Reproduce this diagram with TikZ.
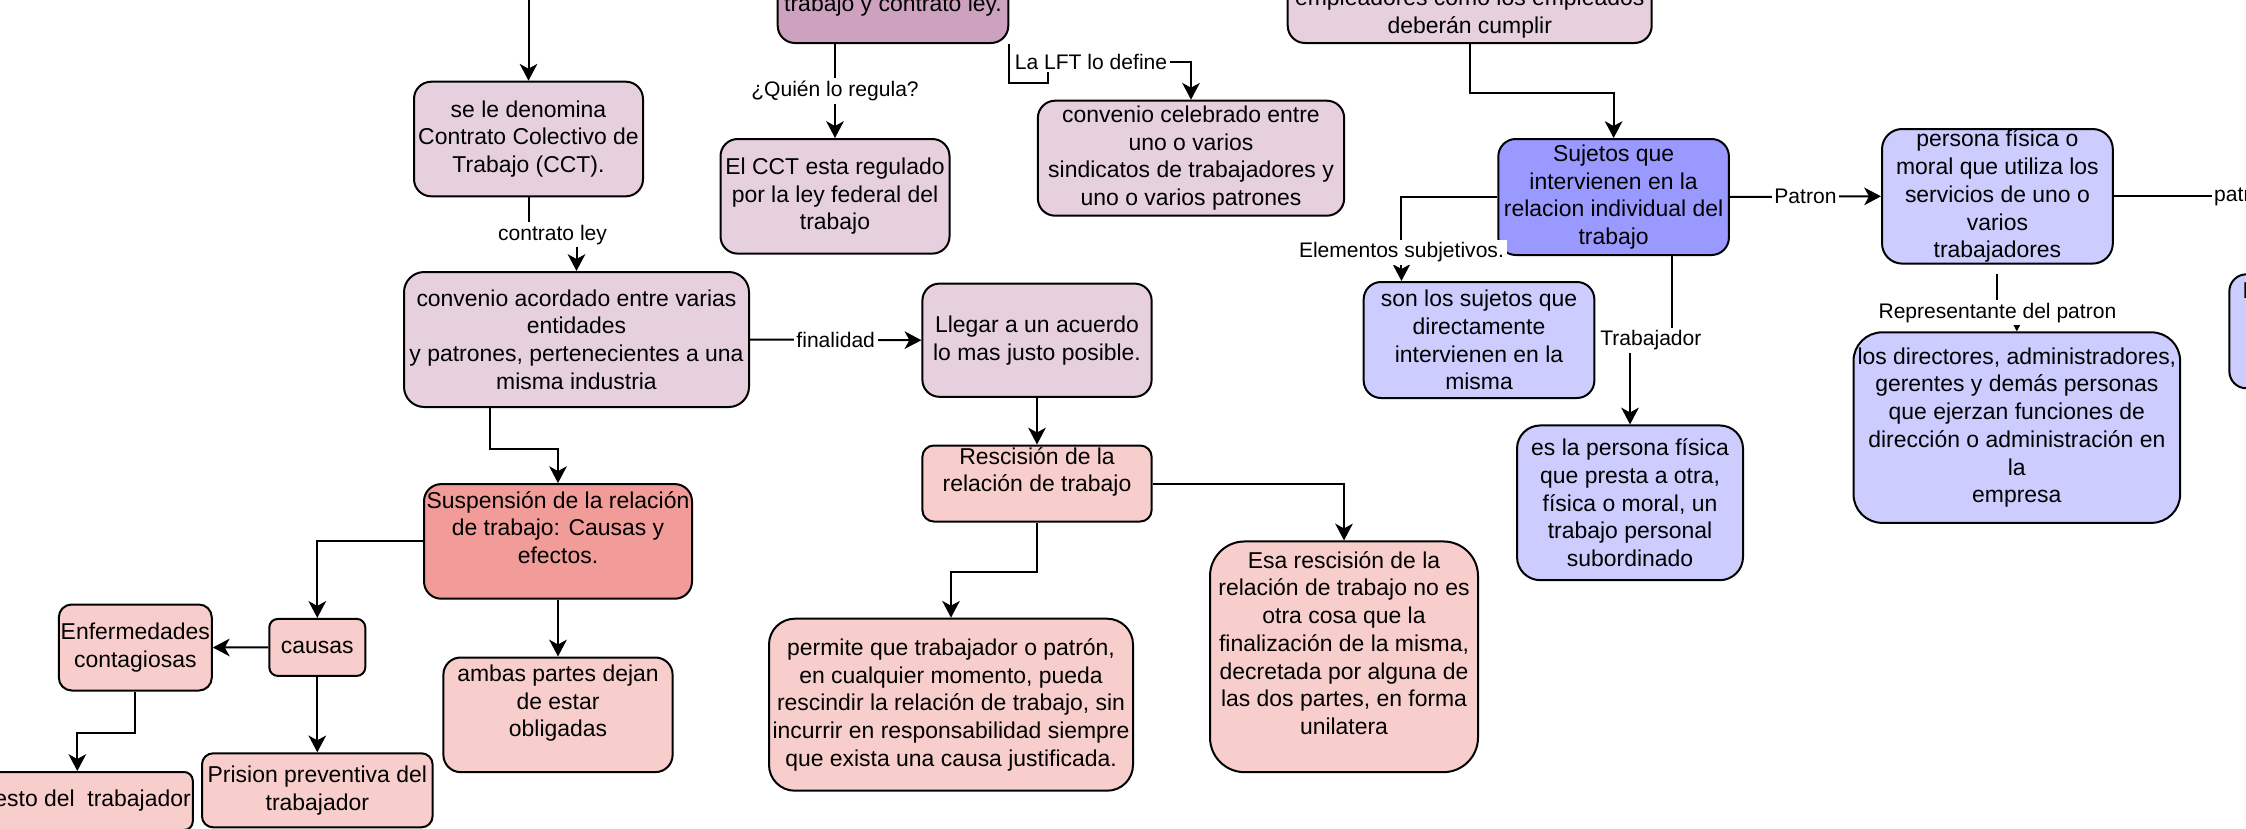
\documentclass[tikz,border=0pt]{standalone}
\usepackage{fontspec}
\setmainfont{Liberation Sans}
\usetikzlibrary{arrows.meta,calc}

\definecolor{mauve}{HTML}{E6D0DE}
\definecolor{mauvedark}{HTML}{CDA2BE}
\definecolor{rose}{HTML}{F8CECC}
\definecolor{rosedark}{HTML}{F19C99}
\definecolor{lilac}{HTML}{CCCCFF}
\definecolor{lilacdark}{HTML}{9999FF}

\newcommand{\boxfont}{\fontsize{8.6pt}{10.4pt}\selectfont}
\newcommand{\lblfont}{\fontsize{7.9pt}{9.5pt}\selectfont}

\tikzset{
  box/.style={draw, line width=0.75pt, align=center, font=\boxfont, inner xsep=0.5pt, inner ysep=0pt},
  sz/.style 2 args={minimum width=#1*0.375pt, minimum height=#2*0.375pt, rounded corners={0.15*min(#1,#2)*0.375pt}},
  lbl/.style={fill=white, font=\lblfont, inner sep=1pt},
  arr/.style={line width=0.75pt, -{Stealth[length=6.3pt,width=6.6pt,inset=1.8pt]}},
  link/.style={line width=0.75pt}
}

\begin{document}
\begin{tikzpicture}[x=0.375pt,y=-0.375pt]
  \useasboundingbox (0,0) rectangle (2246,828);
  \fill[white] (0,0) rectangle (2246,828);
  \clip (0,0) rectangle (2246,828);

  % top row
  \node[box, fill=mauvedark, sz={230.6}{115}] (law) at (893,-14.5) {};
  \node[font=\boxfont] (lawtxt) at (893,6) {trabajo y contrato ley.};
  \node[box, fill=mauve, sz={364}{115}] (duty) at (1469.7,-14.5) {};
  \node[font=\boxfont, align=center] (dutytxt) at (1469.7,13.5) {empleadores como los empleados\\deberán cumplir};
  \coordinate (topin) at (528.5,-20);

  % contrato colectivo
  \node[box, fill=mauve, sz={229}{114.6}] (deno) at (528.5,139) {se le denomina\\Contrato Colectivo de\\Trabajo (CCT).};
  \node[box, fill=mauve, sz={229}{114.6}] (regul) at (835,196.3) {El CCT esta regulado\\por la ley federal del\\trabajo};
  \node[box, fill=mauve, sz={306.3}{115}] (celeb) at (1191,158.2) {convenio celebrado entre\\uno o varios\\sindicatos de trabajadores y\\uno o varios patrones};
  \node[box, fill=mauve, sz={345}{135}] (acord) at (576.5,339.5) {convenio acordado entre varias\\entidades\\y patrones, pertenecientes a una\\misma industria};
  \node[box, fill=mauve, sz={229.2}{113.2}] (acuerdo) at (1037,340.2) {Llegar a un acuerdo\\lo mas justo posible.};

  % rescision
  \node[box, fill=rose, sz={229.2}{76}] (resc) at (1037,483.5) {Rescisión de la\\relación de trabajo\\\mbox{}};
  \node[box, fill=rose, sz={364}{172}] (permite) at (951,704.7) {permite que trabajador o patrón,\\en cualquier momento, pueda\\rescindir la relación de trabajo, sin\\incurrir en responsabilidad siempre\\que exista una causa justificada.};
  \node[box, fill=rose, sz={268}{230.7}] (esa) at (1344,656.8) {Esa rescisión de la\\relación de trabajo no es\\otra cosa que la\\finalización de la misma,\\decretada por alguna de\\las dos partes, en forma\\unilatera\\\mbox{}};

  % suspension
  \node[box, fill=rosedark, sz={268}{114.6}] (susp) at (558,541.4) {Suspensión de la relación\\de trabajo: Causas y\\efectos.\\\mbox{}};
  \node[box, fill=rose, sz={229.2}{114.6}] (ambas) at (558,714.8) {ambas partes dejan\\de estar\\obligadas\\\mbox{}};
  \node[box, fill=rose, sz={96}{57}] (causas) at (317.3,647.4) {causas};
  \node[box, fill=rose, sz={153}{86}] (enferm) at (135.3,647.5) {Enfermedades\\contagiosas};
  \node[box, fill=rose, sz={230.6}{74}] (prision) at (317.3,790.3) {Prision preventiva del\\trabajador};
  \node[box, fill=rose, sz={231}{58}] (arresto) at (77.3,801) {Arresto del\ \ trabajador};

  % sujetos
  \node[box, fill=lilacdark, sz={230.6}{116}] (sujetos) at (1613.6,197) {Sujetos que\\intervienen en la\\relacion individual del\\trabajo};
  \node[box, fill=lilac, sz={230.7}{116}] (directo) at (1479,340) {son los sujetos que\\directamente\\intervienen en la\\misma};
  \node[box, fill=lilac, sz={226}{154.7}] (trabaj) at (1630,502.8) {es la persona física\\que presta a otra,\\física o moral, un\\trabajo personal\\subordinado};
  \node[box, fill=lilac, sz={230.8}{134.6}] (patron) at (1997.4,196.3) {persona física o\\moral que utiliza los\\servicios de uno o\\varios\\trabajadores};
  \node[box, fill=lilac, sz={326.6}{190.5}] (repres) at (2016.8,427.6) {los directores, administradores,\\gerentes y demás personas\\que ejerzan funciones de\\dirección o administración en\\la\\empresa};
  \node[box, fill=lilac, sz={230}{114}, anchor=north west] (otro) at (2228.3,273.3) {};
  \node[font=\boxfont, anchor=west, inner sep=0pt] (otrotxt) at (2242,291) {L};
  \coordinate (offright) at (2300,196.3);
  \coordinate (lftbend) at (1191,62);

  % connectors
  \draw[arr] (topin) -- (deno.north);
  \draw[arr] (deno.south) -- ++(0,37.5) -| (acord.north) node[lbl, pos=0.25] {contrato ley};
  \draw[arr] (regul.north |- law.south) -- (regul.north) node[lbl, midway] {¿Quién lo regula?};
  \draw[arr] (law.south east) -- ++(0,38.7) -- ++(39,0) |- (lftbend) -- (celeb.north);
  \node[lbl] (lftlbl) at (1091,62) {La LFT lo define};
  \draw[arr] (acord.east) -- (acuerdo.west) node[lbl, midway] {finalidad};
  \draw[arr] (acuerdo.south) -- (resc.north);
  \draw[arr] (resc.south) -- ++(0,49) -| (permite.north);
  \draw[arr] (resc.east) -| (esa.north);
  \draw[arr] ($(acord.south west)!.25!(acord.south east)$) -- ++(0,41) -| (susp.north);
  \draw[arr] (susp.south) -- (ambas.north);
  \draw[arr] (susp.west) -| (causas.north);
  \draw[arr] (causas.west) -- (enferm.east);
  \draw[arr] (causas.south) -- (prision.north);
  \draw[arr] (enferm.south) -- ++(0,41.5) -| (arresto.north);
  \draw[arr] (duty.south) -- ++(0,48.5) -| (sujetos.north);
  \draw[arr] (sujetos.west) -| ($(directo.north west)!.1667!(directo.north east)$) node[lbl, pos=0.83] {Elementos subjetivos.};
  \draw[arr] ($(sujetos.south west)!.75!(sujetos.south east)$) -- ++(0,84.5) -| (trabaj.north) node[lbl, pos=0.25] {Trabajador};
  \draw[arr] (sujetos.east) -- (patron.west) node[lbl, midway] {Patron};
  \draw[arr, shorten <=3.4pt] (patron.south) -- ++(0,48) node[lbl, pos=1] {Representante del patron} -| (repres.north);
  \draw[link] (patron.east) -- (offright);
  \node[lbl, anchor=west] (patrlbl) at (2211,197) {patron};
\end{tikzpicture}
\end{document}
